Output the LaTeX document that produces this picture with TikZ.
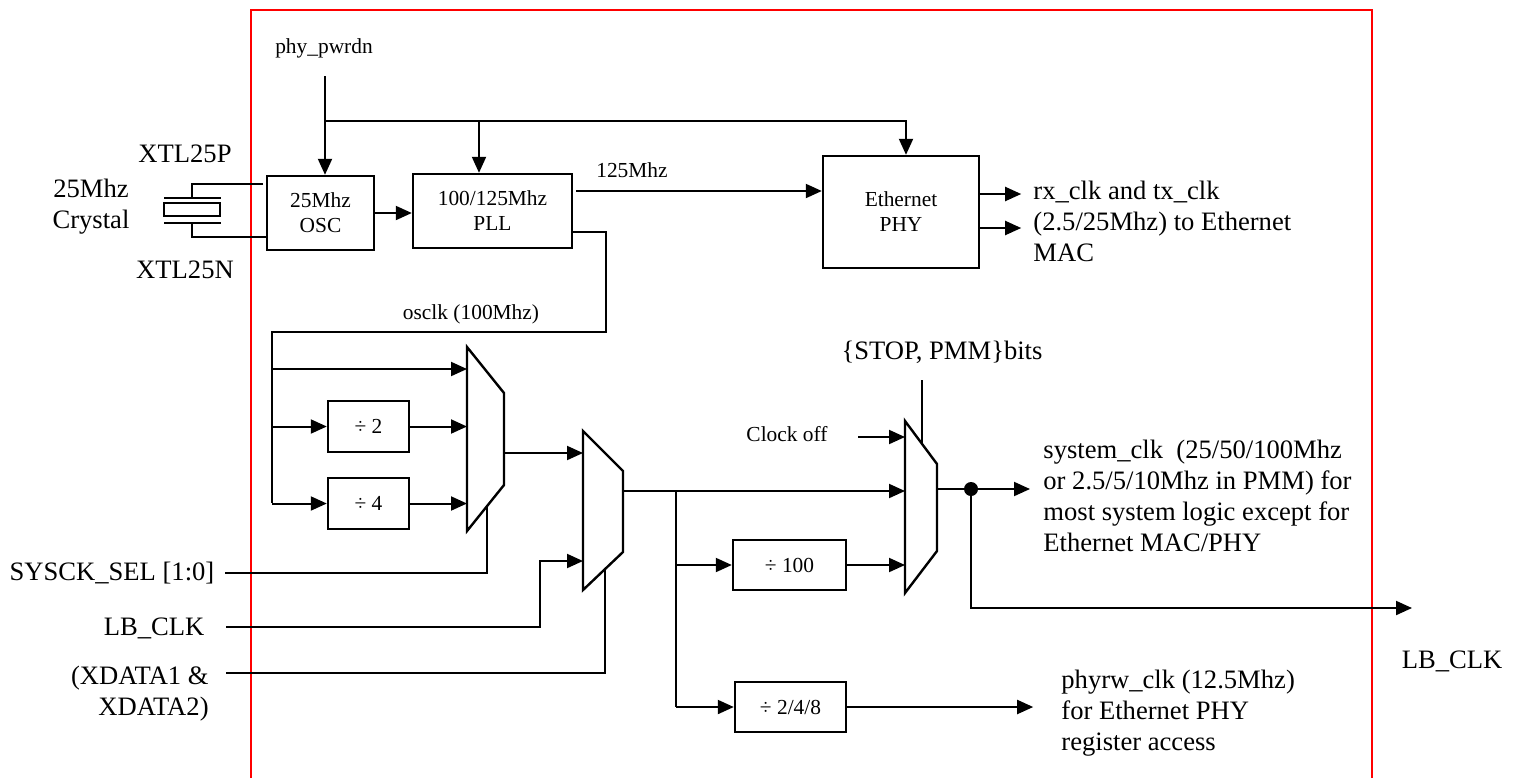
\documentclass[tikz,border=0pt]{standalone}
\usepackage{fontspec}
\setmainfont{Liberation Serif}
\usetikzlibrary{arrows.meta}

\begin{document}
\begin{tikzpicture}[x=0.5pt,y=-0.5pt,
    arr/.style={-{Triangle[length=8pt,width=7pt]},line width=1pt},
    wire/.style={line width=1pt},
    blk/.style={draw,line width=1.2pt,inner sep=0pt,align=center,font=\fontsize{10.7}{12.5}\selectfont},
    lbl/.style={inner sep=0pt,font=\fontsize{13.3}{15.5}\selectfont},
    sml/.style={inner sep=0pt,font=\fontsize{10.7}{12.5}\selectfont},
    muxbox/.style={draw,line width=1.2pt}]
  \useasboundingbox (0,0) rectangle (1514,778);
  % chip boundary
  \draw[red,line width=0.8pt] (251,778) -- (251,10) -- (1372,10) -- (1372,778);
  % blocks
  \node[blk,minimum width=53.5pt,minimum height=37pt] (osc) at (320.5,213) {25Mhz\\OSC};
  \node[blk,minimum width=79.5pt,minimum height=37pt] (pll) at (492.5,211) {100/125Mhz\\PLL};
  \node[blk,minimum width=78pt,minimum height=56pt] (phy) at (901,212) {Ethernet\\PHY};
  \node[blk,minimum width=40.5pt,minimum height=25.5pt] (div2) at (368.5,426.5) {÷ 2};
  \node[blk,minimum width=40.5pt,minimum height=25.5pt] (div4) at (368.5,503.5) {÷ 4};
  \node[blk,minimum width=56.5pt,minimum height=25pt] (div100) at (789.5,565) {÷ 100};
  \node[blk,minimum width=55.5pt,minimum height=25pt] (div248) at (790.5,707) {÷ 2/4/8};
  % muxes
  \coordinate (m1) at (467,347);
  \coordinate (m2) at (583,431);
  \coordinate (m3) at (905,421);
  \draw[muxbox] (m1) -- (504,393) -- (504,485) -- (467,531) -- cycle;
  \draw[muxbox] (m2) -- (623,471) -- (623,552) -- (583,590) -- cycle;
  \draw[muxbox] (m3) -- (937,464) -- (937,551) -- (905,593) -- cycle;
  % labels
  \node[sml] (pwrdn) at (324,48) {phy\_pwrdn};
  \node[sml] (f125) at (632,170) {125Mhz};
  \node[sml] (osclk) at (471,314) {osclk (100Mhz)};
  \node[sml] (clkoff) at (787,434) {Clock off};
  \node[lbl] (stop) at (942,352) {\{STOP, PMM\}bits};
  \node[lbl] (xp) at (185,154) {XTL25P};
  \node[lbl] (xn) at (185,270) {XTL25N};
  \node[lbl,align=center] (xtal) at (91,207) {25Mhz\\Crystal};
  \node[lbl] (selin) at (112,573) {SYSCK\_SEL [1:0]};
  \node[lbl] (lbin) at (154,628) {LB\_CLK};
  \node[lbl,align=right,anchor=east] (xdin) at (209,693.5) {(XDATA1 \&\\XDATA2)};
  \node[lbl,align=left,anchor=west] (rxout) at (1033,221) {rx\_clk and tx\_clk\\(2.5/25Mhz) to Ethernet\\MAC};
  \node[lbl,align=left,anchor=west] (sysout) at (1043,496) {system\_clk\ \ (25/50/100Mhz\\or 2.5/5/10Mhz in PMM) for\\most system logic except for\\Ethernet MAC/PHY};
  \node[lbl,align=left,anchor=west] (phyrw) at (1061,713.5) {phyrw\_clk (12.5Mhz)\\for Ethernet PHY\\register access};
  \node[lbl] (lbout) at (1452,661) {LB\_CLK};
  % crystal
  \draw[wire] (263,184) -| (192,198);
  \draw[wire] (164,198) -- (221,198);
  \draw[wire] (164,203) rectangle (220,216);
  \draw[wire] (164,223) -- (221,223);
  \draw[wire] (192,223) |- (osc.west |- 0,237);
  % power down
  \coordinate (pwtop) at (325,76);
  \coordinate (pwj) at (325,121);
  \coordinate (pllj) at (479,121);
  \coordinate (phyj) at (906,121);
  \draw[arr] (pwtop) -- (pwtop |- osc.north);
  \draw[arr] (pwj) -- (phyj) -- (phyj |- phy.north);
  \draw[arr] (pllj) -- (pllj |- pll.north);
  % clocks
  \draw[arr] (osc.east) -- (osc.east -| pll.west);
  \coordinate (f125s) at (576,191);
  \draw[arr] (f125s) -- (f125s -| phy.west);
  \draw[arr] (phy.east |- 0,194) -- ++(41,0);
  \draw[arr] (phy.east |- 0,228) -- ++(41,0);
  \coordinate (osj) at (272,369);
  \draw[wire] (pll.east |- 0,232) -- (606,232) -- (606,332) -- (272,332) -- (272,503);
  \draw[arr] (osj) -- (osj -| m1);
  \draw[arr] (div2.west -| osj) -- (div2.west);
  \draw[arr] (div4.west -| osj) -- (div4.west);
  \draw[arr] (div2.east) -- (div2.east -| m1);
  \draw[arr] (div4.east) -- (div4.east -| m1);
  \coordinate (m1out) at (504,453);
  \draw[arr] (m1out) -- (m1out -| m2);
  % selects
  \coordinate (sels) at (225,573);
  \coordinate (lbs) at (226,627);
  \coordinate (xds) at (226,673);
  \draw[wire] (sels) -| (487,506);
  \draw[arr] (lbs) -| (540,561) -- (583,561);
  \draw[wire] (xds) -| (605,569);
  \coordinate (m2out) at (623,491);
  \coordinate (br) at (676,491);
  \draw[arr] (m2out) -- (m2out -| m3);
  \draw[wire] (br) -- (676,707);
  \draw[arr] (br |- div100.west) -- (div100.west);
  \draw[arr] (br |- div248.west) -- (div248.west);
  \draw[arr] (div100.east) -- (div100.east -| m3);
  \draw[arr] (div248.east) -- ++(186,0);
  \draw[arr] (858,437) -- (905,437);
  \draw[wire] (922,380) -- (922,443);
  \coordinate (m3out) at (937,489);
  \coordinate (dot) at (971,489);
  \draw[arr] (m3out) -- (1030,489);
  \fill (dot) circle (3.5pt);
  \draw[arr] (dot) |- (1412,608);
\end{tikzpicture}
\end{document}
